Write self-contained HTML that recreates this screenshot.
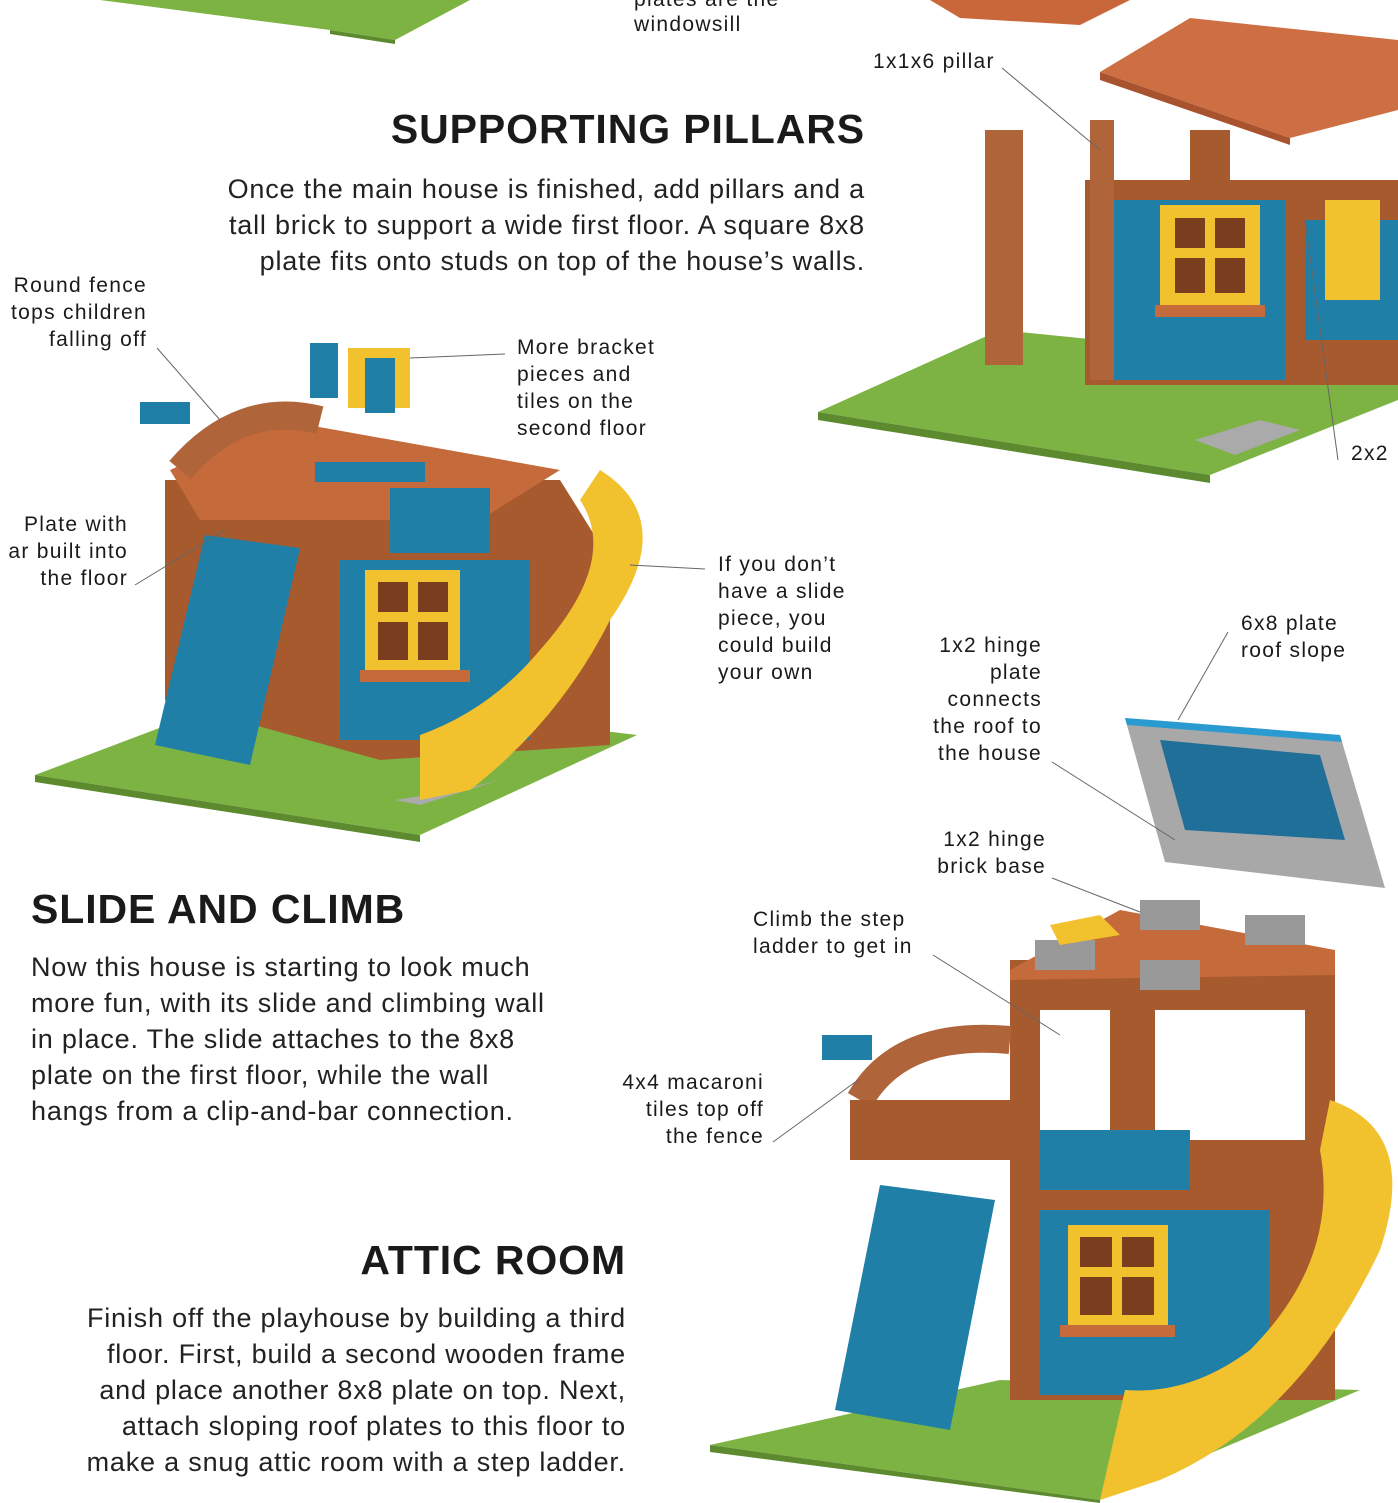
<!DOCTYPE html>
<html><head><meta charset="utf-8"><style>
html,body{margin:0;padding:0;background:#fff;}
body{width:1398px;height:1503px;position:relative;overflow:hidden;font-family:"Liberation Sans",sans-serif;color:#1a1a1a;}
.t{position:absolute;white-space:nowrap;}
.lab{font-size:21px;line-height:27px;letter-spacing:1.3px;}
.h{font-size:41px;font-weight:bold;letter-spacing:0.9px;}
.p{font-size:27px;line-height:36px;font-weight:normal;letter-spacing:0.8px;color:#222;}
.r{text-align:right;}
svg{position:absolute;left:0;top:0;}
</style></head><body>
<svg width="1398" height="1503" viewBox="0 0 1398 1503">
<polygon points="100,0 470,0 395,40 330,30" fill="#7cb342"/>
<polygon points="330,30 395,40 395,44 330,34" fill="#5d8a2f"/>
<polygon points="930,0 1130,0 1080,25 960,18" fill="#c8683a"/>
<polygon points="1100,72 1190,18 1398,40 1398,110 1290,138" fill="#cd6f43"/>
<polygon points="1100,72 1290,138 1290,145 1100,80" fill="#a8532e"/>
<polygon points="818,412 1000,330 1398,370 1398,400 1210,475" fill="#7cb342"/>
<polygon points="818,412 1210,475 1210,483 818,420" fill="#5d8a2f"/>
<polygon points="1195,440 1260,420 1300,430 1235,455" fill="#aaa"/>
<rect x="1085" y="180" width="313" height="205" fill="#a65a2e"/>
<rect x="1105" y="200" width="180" height="180" fill="#1f7fa6"/>
<rect x="1305" y="220" width="93" height="120" fill="#1f7fa6"/>
<rect x="1160" y="205" width="100" height="100" fill="#f2c12e"/>
<rect x="1175" y="218" width="30" height="30" fill="#7a3e1e"/><rect x="1215" y="218" width="30" height="30" fill="#7a3e1e"/>
<rect x="1175" y="258" width="30" height="35" fill="#7a3e1e"/><rect x="1215" y="258" width="30" height="35" fill="#7a3e1e"/>
<rect x="1325" y="200" width="55" height="100" fill="#f2c12e"/>
<rect x="1155" y="305" width="110" height="12" fill="#c46a3b"/>
<rect x="1090" y="120" width="24" height="260" fill="#b0643a"/>
<rect x="985" y="130" width="38" height="235" fill="#b0643a"/>
<rect x="1190" y="130" width="40" height="60" fill="#a65a2e"/>
<polygon points="35,775 260,690 637,735 420,835" fill="#7cb342"/>
<polygon points="35,775 420,835 420,842 35,782" fill="#5d8a2f"/>
<polygon points="395,800 460,790 500,780 420,805" fill="#aaa"/>
<polygon points="165,480 560,480 610,560 610,745 380,760 165,700" fill="#a65a2e"/>
<rect x="340" y="560" width="190" height="180" fill="#1f7fa6"/>
<rect x="365" y="570" width="95" height="100" fill="#f2c12e"/>
<rect x="378" y="582" width="30" height="30" fill="#7a3e1e"/><rect x="418" y="582" width="30" height="30" fill="#7a3e1e"/>
<rect x="378" y="622" width="30" height="38" fill="#7a3e1e"/><rect x="418" y="622" width="30" height="38" fill="#7a3e1e"/>
<rect x="360" y="670" width="110" height="12" fill="#c46a3b"/>
<polygon points="170,470 280,420 560,470 480,520 200,520" fill="#c46a3b"/>
<rect x="390" y="488" width="100" height="65" fill="#1f7fa6"/>
<rect x="315" y="462" width="110" height="20" fill="#1f7fa6"/>
<path d="M180 470 Q240 400 320 420" stroke="#b0643a" stroke-width="28" fill="none"/>
<rect x="310" y="343" width="28" height="55" fill="#1f7fa6"/>
<rect x="348" y="348" width="62" height="60" fill="#f2c12e"/>
<rect x="365" y="358" width="30" height="55" fill="#1f7fa6"/>
<rect x="140" y="402" width="50" height="22" fill="#1f7fa6"/>
<polygon points="205,535 300,548 250,765 155,745" fill="#1f7fa6"/>
<path d="M420 800 L470 790 Q560 720 610 620 Q680 520 600 470 L580 500 Q620 560 540 650 Q490 710 420 735 Z" fill="#f2c12e"/>
<polygon points="1125,718 1340,735 1385,888 1165,862" fill="#a8a8a8"/>
<polygon points="1125,718 1340,735 1342,742 1127,725" fill="#2a9bd1"/>
<polygon points="1160,740 1320,755 1345,840 1185,830" fill="#1f6f99"/>
<polygon points="710,1445 1000,1380 1360,1390 1100,1500" fill="#7cb342"/>
<polygon points="710,1445 1100,1500 1100,1503 710,1452" fill="#5d8a2f"/>
<rect x="1010" y="960" width="325" height="440" fill="#a65a2e"/>
<polygon points="1010,970 1120,910 1335,950 1335,975 1010,980" fill="#c46a3b"/>
<rect x="1040" y="1010" width="70" height="130" fill="#fff"/>
<rect x="1155" y="1010" width="150" height="130" fill="#fff"/>
<rect x="1040" y="1130" width="150" height="60" fill="#1f7fa6"/>
<rect x="1040" y="1210" width="230" height="185" fill="#1f7fa6"/>
<rect x="1068" y="1225" width="100" height="100" fill="#f2c12e"/>
<rect x="1080" y="1237" width="32" height="30" fill="#7a3e1e"/><rect x="1122" y="1237" width="32" height="30" fill="#7a3e1e"/>
<rect x="1080" y="1277" width="32" height="38" fill="#7a3e1e"/><rect x="1122" y="1277" width="32" height="38" fill="#7a3e1e"/>
<rect x="1060" y="1325" width="115" height="12" fill="#c46a3b"/>
<path d="M860 1100 Q900 1030 1010 1040" stroke="#b0643a" stroke-width="28" fill="none"/>
<rect x="850" y="1100" width="160" height="60" fill="#a65a2e"/>
<rect x="822" y="1035" width="50" height="25" fill="#1f7fa6"/>
<rect x="1140" y="900" width="60" height="30" fill="#999"/><rect x="1245" y="915" width="60" height="30" fill="#999"/>
<rect x="1035" y="940" width="60" height="30" fill="#999"/><rect x="1140" y="960" width="60" height="30" fill="#999"/>
<polygon points="1050,925 1100,915 1120,935 1060,945" fill="#f2c12e"/>
<polygon points="880,1185 995,1200 950,1430 835,1410" fill="#1f7fa6"/>
<path d="M1100 1500 L1160 1480 Q1300 1420 1380 1250 Q1420 1130 1330 1100 L1320 1150 Q1340 1260 1250 1350 Q1190 1395 1125 1390 Z" fill="#f2c12e"/>
<g stroke="#666" stroke-width="1" fill="none">
<line x1="1002" y1="68" x2="1100" y2="150"/>
<line x1="1305" y1="220" x2="1338" y2="460"/>
<line x1="157" y1="348" x2="220" y2="420"/>
<line x1="505" y1="354" x2="410" y2="358"/>
<line x1="135" y1="585" x2="225" y2="530"/>
<line x1="705" y1="569" x2="630" y2="565"/>
<line x1="1228" y1="632" x2="1178" y2="720"/>
<line x1="1052" y1="762" x2="1175" y2="840"/>
<line x1="1052" y1="878" x2="1140" y2="912"/>
<line x1="933" y1="955" x2="1060" y2="1035"/>
<line x1="773" y1="1142" x2="858" y2="1080"/>
</g>
</svg>

<div class="t lab" style="left:634px;top:-14px;">plates are the</div>
<div class="t lab" style="left:634px;top:11px;">windowsill</div>
<div class="t lab" style="left:873px;top:48px;">1x1x6 pillar</div>
<div class="t h r" style="right:533px;top:106px;">SUPPORTING PILLARS</div>
<div class="t p r" style="right:533px;top:171px;">Once the main house is finished, add pillars and a<br>tall brick to support a wide first floor. A square 8x8<br>plate fits onto studs on top of the house’s walls.</div>
<div class="t lab r" style="right:1251px;top:272px;">Round fence<br>tops children<br>falling off</div>
<div class="t lab" style="left:517px;top:334px;">More bracket<br>pieces and<br>tiles on the<br>second floor</div>
<div class="t lab" style="left:1351px;top:440px;">2x2</div>
<div class="t lab r" style="right:1270px;top:511px;">Plate with<br>ar built into<br>the floor</div>
<div class="t lab" style="left:718px;top:551px;">If you don’t<br>have a slide<br>piece, you<br>could build<br>your own</div>
<div class="t lab" style="left:1241px;top:610px;">6x8 plate<br>roof slope</div>
<div class="t lab r" style="right:356px;top:632px;">1x2 hinge<br>plate<br>connects<br>the roof to<br>the house</div>
<div class="t lab r" style="right:352px;top:826px;">1x2 hinge<br>brick base</div>
<div class="t h" style="left:31px;top:886px;">SLIDE AND CLIMB</div>
<div class="t lab" style="left:753px;top:906px;">Climb the step<br>ladder to get in</div>
<div class="t p" style="left:31px;top:949px;">Now this house is starting to look much<br>more fun, with its slide and climbing wall<br>in place. The slide attaches to the 8x8<br>plate on the first floor, while the wall<br>hangs from a clip-and-bar connection.</div>
<div class="t lab r" style="right:634px;top:1069px;">4x4 macaroni<br>tiles top off<br>the fence</div>
<div class="t h r" style="right:772px;top:1237px;">ATTIC ROOM</div>
<div class="t p r" style="right:772px;top:1300px;">Finish off the playhouse by building a third<br>floor. First, build a second wooden frame<br>and place another 8x8 plate on top. Next,<br>attach sloping roof plates to this floor to<br>make a snug attic room with a step ladder.</div>
</body></html>
